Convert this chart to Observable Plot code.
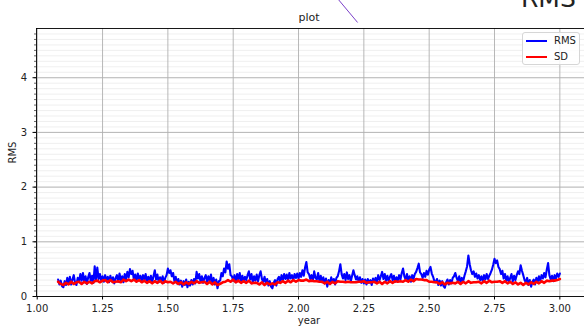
<!DOCTYPE html>
<html>
<head>
<meta charset="utf-8">
<script src="https://cdn.jsdelivr.net/npm/d3@7"></script>
<script src="https://cdn.jsdelivr.net/npm/@observablehq/plot@0.6"></script>
<style>
html,body{margin:0;padding:0;background:#fff;overflow:hidden;width:584px;height:326px}
#wrap{position:relative;width:586px;height:326px;font-family:"DejaVu Sans",sans-serif}
#chart svg{display:block;max-width:none !important}
.legend{position:absolute;left:522px;top:32px;width:58px;height:33px;border:1px solid #d6d6d6;border-radius:3px;background:rgba(255,255,255,0.85);box-sizing:border-box}
.legend .sw{position:absolute;left:3px;width:21px;height:2px}
.legend .lb{position:absolute;left:31px;font-size:10px;line-height:10px;color:#222}
.big{position:absolute;left:521px;top:-14px;font-size:25px;line-height:25px;color:#222;white-space:nowrap}
</style>
</head>
<body>
<div id="wrap"><div id="chart"></div>
<div class="big">RMS</div>
<div class="legend">
  <div class="sw" style="top:7px;background:#0000ff"></div><div class="lb" style="top:3px">RMS</div>
  <div class="sw" style="top:23px;background:#ff0000"></div><div class="lb" style="top:19px">SD</div>
</div>
</div>
<script>
// x tick labels / y ticks
const xTicks = [1.00, 1.25, 1.50, 1.75, 2.00, 2.25, 2.50, 2.75, 3.00];
const yTicks = [0, 1, 2, 3, 4];
const yMinor = d3.range(0, 49).map(i => i / 10);
const seriesNames = ["RMS", "SD"];
const rmsStart = 1.08, rmsStep = 0.005;
const sdStart = 1.08, sdStep = 0.01;

// RMS (blue), sampled every 0.005 year from 1.08 to 3.00
const rmsValues = [
  0.31, 0.22, 0.29, 0.19,
  0.17, 0.28, 0.21, 0.34, 0.24, 0.36, 0.22, 0.31, 0.39, 0.25,
  0.21, 0.34, 0.27, 0.41, 0.29, 0.43, 0.26, 0.37, 0.23, 0.35,
  0.43, 0.28, 0.38, 0.25, 0.55, 0.31, 0.53, 0.32, 0.41, 0.29,
  0.37, 0.27, 0.39, 0.30, 0.36, 0.26, 0.38, 0.28, 0.35, 0.24,
  0.34, 0.39, 0.27, 0.42, 0.30, 0.37, 0.26, 0.41, 0.31, 0.45,
  0.35, 0.50, 0.41, 0.47, 0.31, 0.40, 0.28, 0.42, 0.32, 0.38,
  0.28, 0.39, 0.31, 0.41, 0.27, 0.36, 0.29, 0.38, 0.26, 0.37,
  0.48, 0.31, 0.40, 0.26, 0.35, 0.28, 0.37, 0.25, 0.34, 0.39,
  0.51, 0.43, 0.48, 0.37, 0.43, 0.28, 0.36, 0.24, 0.32, 0.22,
  0.29, 0.18, 0.28, 0.21, 0.31, 0.17, 0.27, 0.20, 0.30, 0.22,
  0.32, 0.24, 0.45, 0.33, 0.41, 0.27, 0.37, 0.25, 0.34, 0.39,
  0.27, 0.37, 0.29, 0.40, 0.24, 0.34, 0.22, 0.31, 0.15, 0.28,
  0.29, 0.43, 0.37, 0.51, 0.44, 0.64, 0.51, 0.59, 0.39, 0.37,
  0.29, 0.39, 0.26, 0.41, 0.31, 0.43, 0.28, 0.38, 0.27, 0.36,
  0.30, 0.39, 0.46, 0.31, 0.41, 0.26, 0.37, 0.29, 0.40, 0.28,
  0.39, 0.46, 0.32, 0.27, 0.36, 0.24, 0.32, 0.20, 0.28, 0.18,
  0.15, 0.25, 0.30, 0.20, 0.32, 0.36, 0.26, 0.39, 0.30, 0.41,
  0.32, 0.40, 0.29, 0.43, 0.33, 0.39, 0.30, 0.41, 0.34, 0.42,
  0.33, 0.43, 0.36, 0.48, 0.38, 0.53, 0.63, 0.44, 0.41, 0.32,
  0.39, 0.29, 0.46, 0.34, 0.31, 0.43, 0.28, 0.38, 0.26, 0.35,
  0.24, 0.33, 0.18, 0.30, 0.23, 0.35, 0.26, 0.32, 0.22, 0.34,
  0.37, 0.46, 0.59, 0.41, 0.33, 0.41, 0.30, 0.44, 0.32, 0.39,
  0.28, 0.38, 0.48, 0.39, 0.31, 0.37, 0.27, 0.35, 0.25, 0.32,
  0.24, 0.31, 0.22, 0.32, 0.25, 0.30, 0.21, 0.33, 0.26, 0.34,
  0.27, 0.39, 0.30, 0.37, 0.45, 0.32, 0.41, 0.29, 0.38, 0.28,
  0.36, 0.41, 0.30, 0.38, 0.27, 0.35, 0.29, 0.39, 0.31, 0.43,
  0.51, 0.37, 0.31, 0.41, 0.29, 0.37, 0.27, 0.39, 0.32, 0.41,
  0.45, 0.52, 0.60, 0.44, 0.41, 0.34, 0.43, 0.36, 0.47, 0.40,
  0.49, 0.54, 0.42, 0.36, 0.28, 0.26, 0.32, 0.21, 0.29, 0.20,
  0.28, 0.19, 0.16, 0.26, 0.31, 0.22, 0.30, 0.24, 0.34, 0.37,
  0.43, 0.34, 0.28, 0.37, 0.26, 0.34, 0.28, 0.38, 0.46, 0.55,
  0.75, 0.59, 0.48, 0.41, 0.46, 0.36, 0.42, 0.33, 0.39, 0.30,
  0.37, 0.28, 0.39, 0.31, 0.41, 0.32, 0.38, 0.43, 0.49, 0.58,
  0.69, 0.61, 0.66, 0.54, 0.50, 0.41, 0.47, 0.33, 0.41, 0.29,
  0.37, 0.26, 0.34, 0.41, 0.28, 0.38, 0.30, 0.39, 0.46, 0.41,
  0.57, 0.47, 0.39, 0.30, 0.26, 0.34, 0.21, 0.30, 0.18, 0.27,
  0.31, 0.22, 0.34, 0.26, 0.37, 0.29, 0.39, 0.33, 0.43, 0.35,
  0.49, 0.61, 0.39, 0.31, 0.38, 0.28, 0.39, 0.33, 0.42, 0.36,
  0.42
];

// SD (red), sampled every 0.01 year from 1.08 to 3.00
const sdValues = [
  0.27, 0.23,
  0.21, 0.25, 0.22, 0.27, 0.23, 0.26, 0.27, 0.23, 0.27, 0.24,
  0.27, 0.24, 0.28, 0.29, 0.26, 0.29, 0.30, 0.26, 0.30, 0.26,
  0.27, 0.28, 0.26, 0.31, 0.28, 0.31, 0.28, 0.31, 0.27, 0.30,
  0.26, 0.29, 0.25, 0.28, 0.24, 0.28, 0.25, 0.29, 0.24, 0.28,
  0.26, 0.27, 0.24, 0.27, 0.23, 0.26, 0.22, 0.26, 0.23, 0.27,
  0.24, 0.28, 0.25, 0.26, 0.27, 0.23, 0.27, 0.22, 0.26, 0.21,
  0.23, 0.26, 0.27, 0.30, 0.27, 0.31, 0.26, 0.29, 0.25, 0.28,
  0.25, 0.29, 0.24, 0.25, 0.25, 0.22, 0.26, 0.21, 0.25, 0.22,
  0.24, 0.22, 0.26, 0.25, 0.28, 0.25, 0.29, 0.26, 0.30, 0.27,
  0.30, 0.29, 0.29, 0.31, 0.28, 0.29, 0.28, 0.28, 0.27, 0.27,
  0.24, 0.27, 0.23, 0.27, 0.24, 0.28, 0.27, 0.27, 0.26, 0.27,
  0.26, 0.26, 0.26, 0.27, 0.27, 0.28, 0.25, 0.26, 0.26, 0.27,
  0.24, 0.27, 0.23, 0.27, 0.24, 0.28, 0.25, 0.28, 0.27, 0.28,
  0.27, 0.30, 0.27, 0.31, 0.28, 0.32, 0.31, 0.31, 0.30, 0.30,
  0.27, 0.27, 0.26, 0.26, 0.23, 0.26, 0.22, 0.25, 0.24, 0.25,
  0.24, 0.27, 0.23, 0.27, 0.24, 0.28, 0.25, 0.26, 0.26, 0.27,
  0.24, 0.28, 0.25, 0.29, 0.26, 0.27, 0.27, 0.28, 0.25, 0.28,
  0.24, 0.27, 0.23, 0.26, 0.22, 0.25, 0.21, 0.25, 0.22, 0.26,
  0.23, 0.27, 0.24, 0.28, 0.25, 0.29, 0.28, 0.29, 0.29, 0.30,
  0.32
];

// stray annotation stroke at the top (data coordinates)
const strokeX = [2.149, 2.226];
const strokeY = [5.45, 5.01];

const rms = rmsValues.map((v, i) => ({year: +(rmsStart + i * rmsStep).toFixed(3), v}));
const sd = sdValues.map((v, i) => ({year: +(sdStart + i * sdStep).toFixed(2), v}));
const annot = [{x1: strokeX[0], y1: strokeY[0], x2: strokeX[1], y2: strokeY[1]}];

const chart = Plot.plot({
  width: 586,
  height: 326,
  marginLeft: 36,
  marginRight: 0,
  marginTop: 28,
  marginBottom: 30,
  style: {fontFamily: "DejaVu Sans", fontSize: "10px", color: "#222", background: "#fff", overflow: "visible"},
  x: {domain: [0.9973, 3.102], axis: null},
  y: {domain: [0, 4.9], axis: null},
  marks: [
    Plot.ruleY(yMinor, {stroke: "#ebebeb", strokeWidth: 0.8}),
    Plot.ruleX(xTicks, {stroke: "#b0b0b0", strokeWidth: 0.9}),
    Plot.ruleY(yTicks, {stroke: "#b0b0b0", strokeWidth: 0.9}),
    Plot.line(rms, {x: "year", y: "v", stroke: "#0000ff", strokeWidth: 2.1}),
    Plot.line(sd, {x: "year", y: "v", stroke: "#ff0000", strokeWidth: 2.6}),
    Plot.frame({stroke: "#000", strokeWidth: 0.9}),
    Plot.axisX(xTicks, {tickFormat: d => d.toFixed(2), tickSize: 3.5, tickPadding: 4.5, fontSize: 10, label: null, stroke: "#000"}),
    Plot.axisY(yTicks, {tickFormat: d => String(d), tickSize: 3.5, tickPadding: 6, fontSize: 10, label: null, stroke: "#000"}),
    Plot.axisY(yMinor, {tickFormat: () => "", tickSize: 2, label: null, stroke: "#000", strokeWidth: 0.6}),
    Plot.text(["plot"], {frameAnchor: "top", dx: -2.5, dy: -11, lineAnchor: "middle", fontSize: 11, fill: "#222"}),
    Plot.text(["year"], {frameAnchor: "bottom", dx: -2.5, dy: 24, lineAnchor: "middle", fontSize: 10, fill: "#222"}),
    Plot.text([seriesNames[0]], {frameAnchor: "left", dx: -24, dy: 1, rotate: -90, lineAnchor: "middle", fontSize: 10, fill: "#222"}),
    Plot.link(annot, {x1: "x1", y1: "y1", x2: "x2", y2: "y2", stroke: "#7a3fc8", strokeWidth: 1, clip: false})
  ]
});
document.getElementById("chart").appendChild(chart);
</script>
</body>
</html>
